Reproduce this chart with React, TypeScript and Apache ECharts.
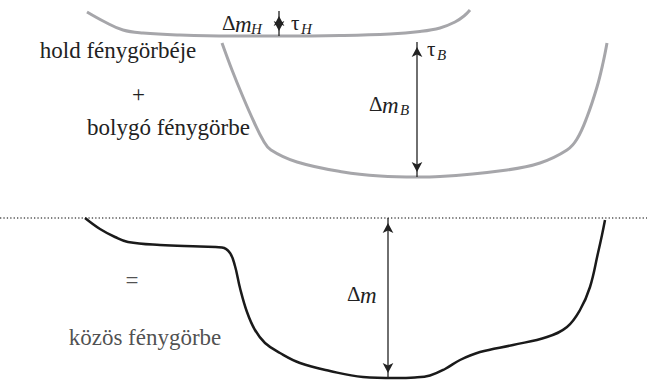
import React, { useEffect, useRef } from "react";
import * as echarts from "echarts";

// Light-curve shapes, [x, y] in page pixels (y grows downward)
const moonCurve: number[][] = [
  [87, 12], [105, 22], [123, 30], [143, 33], [180, 35], [230, 36], [280, 36],
  [340, 35.5], [390, 34], [420, 31.5], [440, 28], [455, 22], [464, 16], [470, 10],
];
const planetCurve: number[][] = [
  [222, 43], [232, 70], [243, 97], [254, 122], [263, 140], [271, 150], [297, 162],
  [343, 172], [380, 176], [417, 177], [440, 176.5], [507, 170], [540, 163], [567, 150],
  [577, 139], [587, 117], [597, 87], [603, 63], [607, 43],
];
const combinedCurve: number[][] = [
  [85, 218], [100, 229], [115, 237], [128, 242], [160, 245], [200, 246.5], [222, 247.5],
  [230, 253], [235, 266], [240, 288], [247, 312], [255, 330], [265, 343], [280, 353],
  [300, 363], [330, 371], [363, 377], [395, 378], [415, 377.5], [430, 375.5], [445, 369],
  [460, 360], [480, 352], [513, 345], [547, 337], [567, 327], [580, 310], [590, 287],
  [598, 253], [602, 235], [605, 220],
];
const baseline: number[][] = [[0, 218], [647, 218]];
// Double-headed arrows: [x, yTop, yBottom]
const arrowMoon = [279, 11, 36];
const arrowPlanet = [417, 42, 177];
const arrowCombined = [388, 218, 378];

const labels = {
  hold: "hold fénygörbéje",
  plus: "+",
  bolygo: "bolygó fénygörbe",
  eq: "=",
  kozos: "közös fénygörbe",
};

const SERIF = "Liberation Serif";
const INK = "#222";

function arrowSeries(a: number[]) {
  return {
    type: "line",
    silent: true,
    clip: false,
    symbol: "arrow",
    symbolSize: [8, 10],
    itemStyle: { color: INK },
    lineStyle: { color: INK, width: 1.3 },
    data: [
      { value: [a[0], a[1]], symbolRotate: 0, symbolOffset: [0, 5] },
      { value: [a[0], a[2]], symbolRotate: 180, symbolOffset: [0, -5] },
    ],
  };
}

function txt(text: string, x: number, y: number, size: number, italic = false, align = "left") {
  return {
    type: "text",
    x,
    y,
    style: {
      text,
      fontFamily: SERIF,
      fontSize: size,
      fill: INK,
      fontStyle: italic ? "italic" : "normal",
      align,
      verticalAlign: "middle",
    },
  };
}

function labelSeries(text: string, x: number, y: number) {
  return {
    type: "scatter",
    silent: true,
    symbolSize: 0,
    data: [[x, y]],
    label: {
      show: true,
      position: "inside",
      formatter: text,
      fontFamily: SERIF,
      fontSize: 23,
      color: INK,
    },
  };
}

export default function App() {
  const ref = useRef<HTMLDivElement>(null);
  useEffect(() => {
    document.body.style.margin = "0";
    const chart = echarts.init(ref.current!, null, { renderer: "svg" });
    chart.setOption({
      animation: false,
      grid: { left: 0, right: 0, top: 0, bottom: 0 },
      xAxis: { type: "value", min: 0, max: 647, show: false },
      yAxis: { type: "value", min: 0, max: 383, inverse: true, show: false },
      series: [
        {
          type: "line", data: baseline, symbol: "none", clip: false, silent: true,
          lineStyle: { color: "#555", width: 1.3, type: [1.3, 2.1] },
        },
        {
          type: "line", data: moonCurve, symbol: "none", smooth: 0.4, clip: false, silent: true,
          lineStyle: { color: "#a6a6aa", width: 3 },
        },
        {
          type: "line", data: planetCurve, symbol: "none", smooth: 0.4, clip: false, silent: true,
          lineStyle: { color: "#a6a6aa", width: 3 },
        },
        {
          type: "line", data: combinedCurve, symbol: "none", smooth: 0.4, clip: false, silent: true,
          lineStyle: { color: "#1a1a1a", width: 2.5 },
        },
        arrowSeries(arrowMoon),
        arrowSeries(arrowPlanet),
        arrowSeries(arrowCombined),
        labelSeries(labels.eq, 132, 280),
        labelSeries(labels.kozos, 145, 337),
      ],
      graphic: [
        txt(labels.hold, 118, 50, 23, false, "center"),
        txt(labels.plus, 132, 94, 23),
        {
          type: "text", x: 87, y: 116,
          style: { text: labels.bolygo, fontFamily: SERIF, fontSize: 23, fill: INK },
        },
        // Δm_H
        txt("Δ", 222, 23, 21),
        txt("m", 235, 24, 23, true),
        txt("H", 251, 29, 15, true),
        // τ_H
        txt("τ", 291, 23, 21),
        txt("H", 301, 29, 15, true),
        // τ_B
        txt("τ", 427, 49, 21),
        txt("B", 437, 55, 15, true),
        // Δm_B
        txt("Δ", 369, 104, 21),
        txt("m", 382, 105, 23, true),
        txt("B", 400, 110, 15, true),
        // Δm
        txt("Δ", 347, 294, 21),
        txt("m", 360, 295, 23, true),
      ],
    });
    return () => chart.dispose();
  }, []);
  return <div ref={ref} style={{ width: 647, height: 383 }} />;
}
